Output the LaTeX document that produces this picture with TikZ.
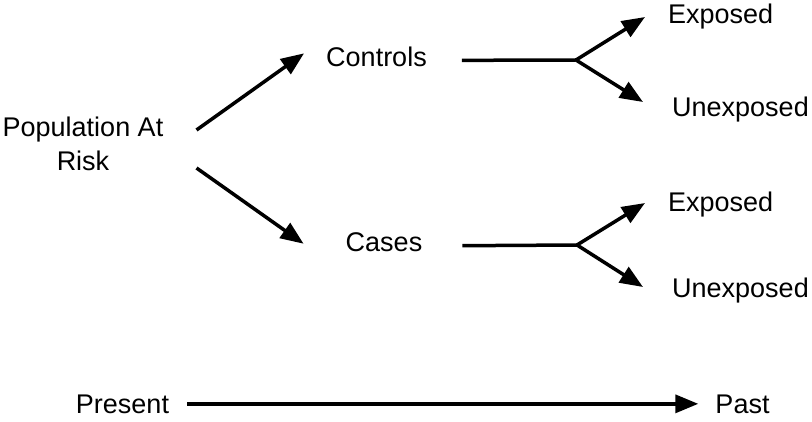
\documentclass[tikz,border=0pt]{standalone}
\usepackage{fontspec}
\setmainfont{Liberation Sans}
\usetikzlibrary{arrows.meta}

\begin{document}
\begin{tikzpicture}[x=1pt, y=-1pt,
    lbl/.style={font=\fontsize{27}{34}\selectfont, inner sep=0pt},
    stem/.style={line width=3.5pt},
    arr/.style={line width=3.5pt, -{Triangle[length=23pt,width=18pt]}}]
  \useasboundingbox (0,0) rectangle (812,422);
  % labels
  \node[lbl, align=center] (pop) at (83,144) {Population At\\Risk};
  \node[lbl, anchor=base] (ctrl) at (376.5,67) {Controls};
  \node[lbl, anchor=base] (cases) at (384,252) {Cases};
  \node[lbl, anchor=base west] (exp1) at (668,24) {Exposed};
  \node[lbl, anchor=base west] (unexp1) at (672,117) {Unexposed};
  \node[lbl, anchor=base west] (exp2) at (668,212) {Exposed};
  \node[lbl, anchor=base west] (unexp2) at (672,298) {Unexposed};
  \node[lbl, anchor=base] (present) at (122.5,413) {Present};
  \node[lbl, anchor=base] (past) at (742.5,413) {Past};
  \coordinate (cj1) at (576,60);
  \coordinate (cj2) at (577,245);
  % population split
  \draw[arr] ([shift={(33,-14)}]pop.east) -- ([shift={(-22,-4)}]ctrl.west);
  \draw[arr] ([shift={(33,24)}]pop.east) -- ([shift={(-42,1)}]cases.west);
  % controls
  \draw[stem] ([shift={(35,3)}]ctrl.east) -- (cj1);
  \draw[arr] (cj1) -- ([shift={(-23,0)}]exp1.west);
  \draw[arr] (cj1) -- ([shift={(-29,-8)}]unexp1.west);
  % cases
  \draw[stem] ([shift={(40,3)}]cases.east) -- (cj2);
  \draw[arr] (cj2) -- ([shift={(-23,-2)}]exp2.west);
  \draw[arr] (cj2) -- ([shift={(-29,-4)}]unexp2.west);
  % time axis
  \draw[arr] ([xshift=18]present.east) -- ([xshift=-17]past.west);
\end{tikzpicture}
\end{document}
